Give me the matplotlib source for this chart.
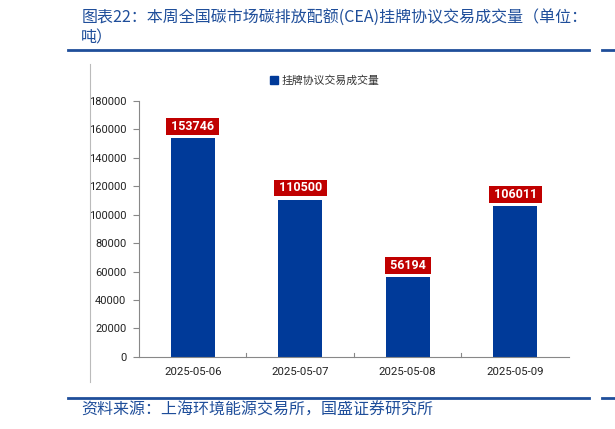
import matplotlib.pyplot as plt
from matplotlib.lines import Line2D
from matplotlib.patches import Patch

plt.rcParams['font.family'] = ['Noto Sans CJK SC', 'DejaVu Sans']

dates = ['2025-05-06', '2025-05-07', '2025-05-08', '2025-05-09']
volume = [153746, 110500, 56194, 106011]
yticks = [0, 20000, 40000, 60000, 80000, 100000, 120000, 140000, 160000, 180000]

bar_color = '#003A99'
label_red = '#C00000'
title_blue = '#1F4E9A'

fig = plt.figure(figsize=(6.15, 4.29), dpi=100)
ax = fig.add_axes([0.226, 0.168, 0.699, 0.597])

x = range(len(dates))
ax.bar(x, volume, width=0.41, color=bar_color, zorder=2)
for i, v in enumerate(volume):
    ax.annotate(' %d ' % v, (i, v), xytext=(0, 8.5), textcoords='offset points',
                ha='center', va='center', color='white', fontsize=9, fontweight='bold',
                family='Roboto',
                bbox=dict(boxstyle='square,pad=0.15', fc=label_red, ec='none'))

ax.set_xlim(-0.5, len(dates) - 0.5)
ax.set_ylim(0, 180000)
ax.set_yticks(yticks)
ax.set_yticklabels([str(t) for t in yticks], fontsize=8, family='Roboto', color='#222222')
ax.set_xticks(list(x))
ax.set_xticklabels(dates, fontsize=8.2, family='Roboto', color='#222222')
ax.tick_params(axis='x', length=0, pad=7)
ax.tick_params(axis='y', length=4, color='#888888', pad=5)
# category separators on x axis
for b in [0.5, 1.5, 2.5]:
    ax.plot([b, b], [0, 2500], color='#888888', lw=0.8, clip_on=False)
for s in ['top', 'right']:
    ax.spines[s].set_visible(False)
for s in ['left', 'bottom']:
    ax.spines[s].set_color('#888888')
    ax.spines[s].set_linewidth(0.8)

leg = fig.legend(handles=[Patch(color=bar_color, label='挂牌协议交易成交量')],
                 loc='center', bbox_to_anchor=(0.528, 0.812), frameon=False,
                 fontsize=7.8, handlelength=0.7, handleheight=0.7, handletextpad=0.3)
for t in leg.get_texts():
    t.set_color('#333333')

# title, rules and source
fig.text(0.132, 0.958, '图表22：本周全国碳市场碳排放配额(CEA)挂牌协议交易成交量（单位：',
         color=title_blue, fontsize=11.5, style='italic', va='center')
fig.text(0.132, 0.911, '吨）', color=title_blue, fontsize=11.5, style='italic', va='center')
fig.add_artist(Line2D([0.1106, 0.958], [0.883, 0.883], color=title_blue, lw=2))
fig.add_artist(Line2D([0.979, 1.0], [0.883, 0.883], color=title_blue, lw=2))
fig.add_artist(Line2D([0.146, 0.146], [0.110, 0.851], color='#BBBBBB', lw=0.8))
fig.add_artist(Line2D([0.1106, 0.958], [0.072, 0.072], color=title_blue, lw=2))
fig.add_artist(Line2D([0.979, 1.0], [0.072, 0.072], color=title_blue, lw=2))
fig.text(0.132, 0.044, '资料来源：上海环境能源交易所，国盛证券研究所',
         color=title_blue, fontsize=11.5, style='italic', va='center')

fig.savefig('out.png', dpi=100)
